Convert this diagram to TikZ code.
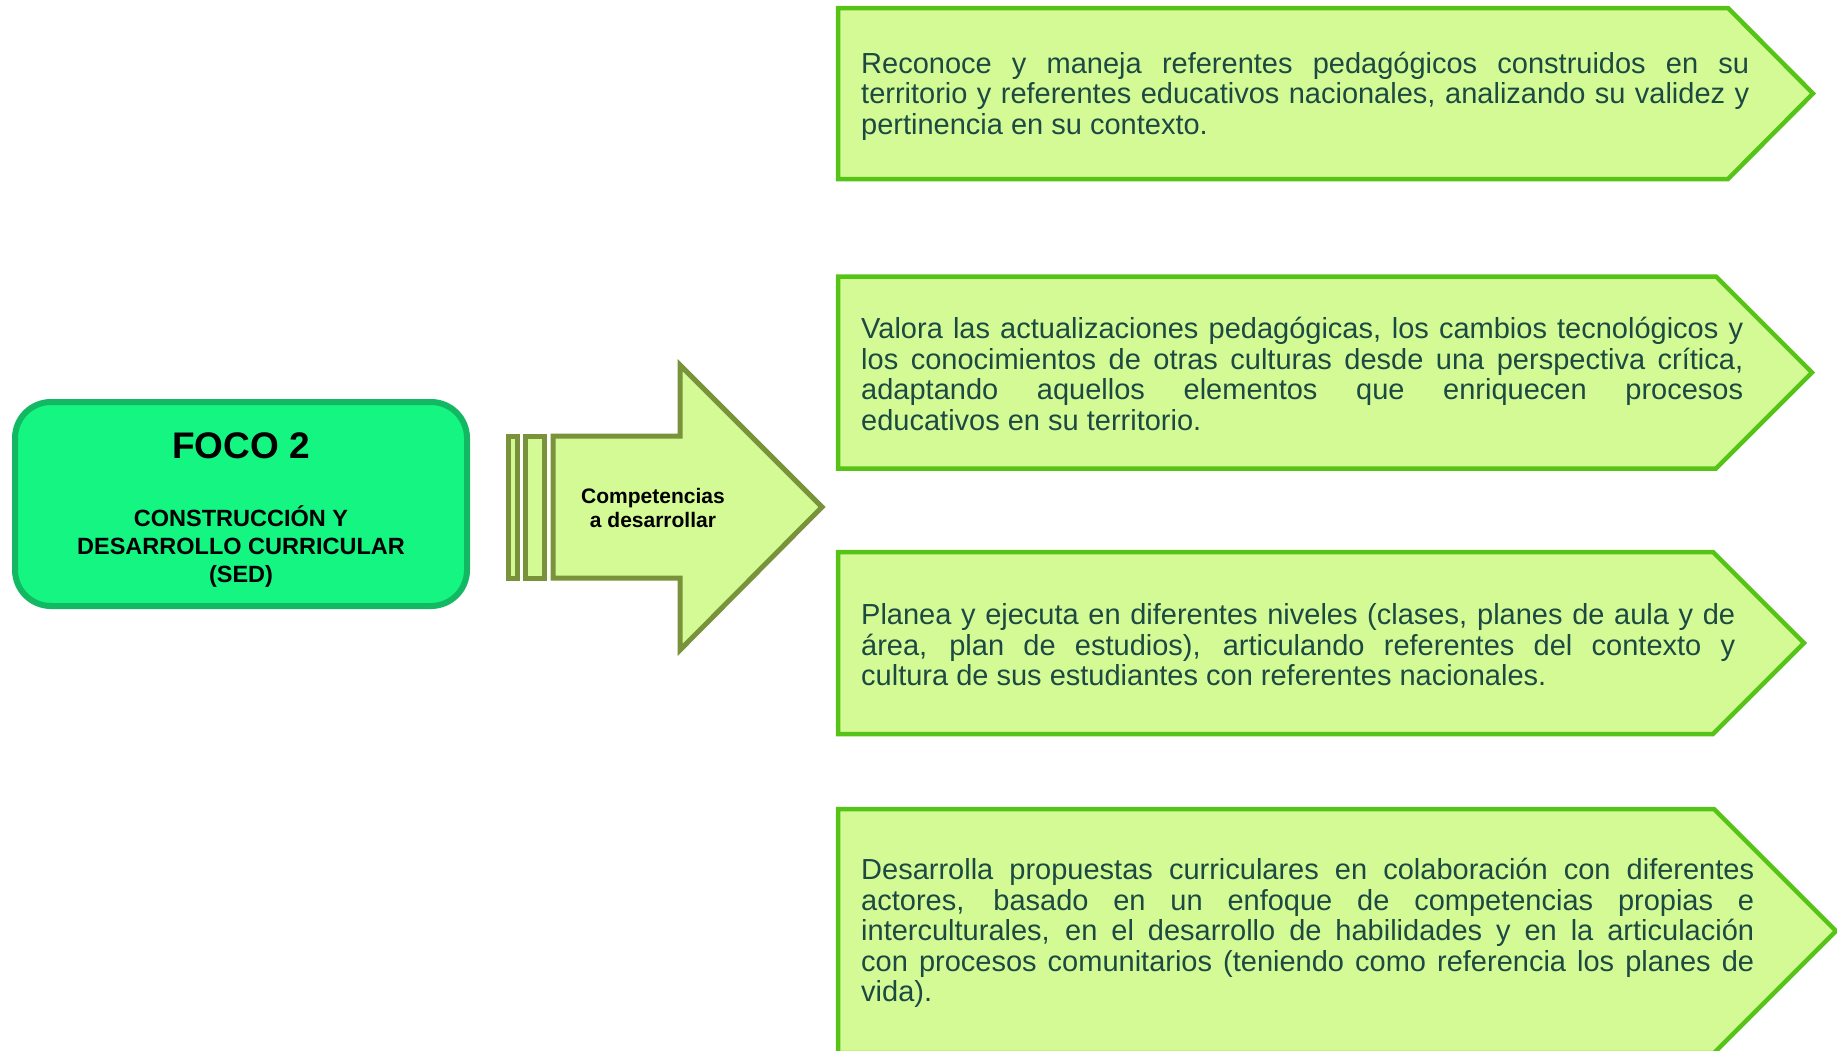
\documentclass[tikz,border=0pt]{standalone}
\usepackage{fontspec}
\setmainfont{Liberation Sans}
\hyphenpenalty=10000
\exhyphenpenalty=10000

\definecolor{focofill}{HTML}{14F582}
\definecolor{focoline}{HTML}{13B862}
\definecolor{compfill}{HTML}{D4FA96}
\definecolor{compline}{HTML}{55C416}
\definecolor{arrowline}{HTML}{789339}
\definecolor{comptext}{HTML}{1C4A42}

\begin{document}
\begin{tikzpicture}[x=1pt,y=-1pt,
		focobox/.style={draw=focoline,fill=focofill,line width=6pt,rounded corners=36pt},
		bigarrow/.style={draw=arrowline,fill=compfill,line width=5pt},
		compbox/.style={draw=compline,fill=compfill,line width=4.5pt},
		comptxt/.style={anchor=west,inner sep=0pt,align=justify,text=comptext,
			font=\fontsize{29}{30.5}\selectfont}]
		\useasboundingbox (0,0) rectangle (1837,1050);

		% focus box
		\draw[focobox] (15,402) rectangle (467,606);
		\node (foco) at (241,446) {\fontsize{37}{40}\selectfont\bfseries FOCO 2};
		\node[align=center,font=\fontsize{23.5}{28}\selectfont\bfseries] (sed) at (241,547)
			{CONSTRUCCIÓN Y\\DESARROLLO CURRICULAR\\(SED)};

		% arrow with the two bars
		\draw[bigarrow] (508.5,436) rectangle (517.5,578);
		\draw[bigarrow] (525.5,436) rectangle (544.5,578);
		\draw[bigarrow] (553,436) -- (680,436) -- (680,365) -- (822,507)
			-- (680,650) -- (680,578) -- (553,578) -- cycle;
		\node[align=center,font=\fontsize{21}{23.5}\selectfont\bfseries] (comp) at (653,508)
			{Competencias\\a desarrollar};

		% competences
		\draw[compbox] (838,8) -- (1728,8) -- (1813,93.5) -- (1728,179) -- (838,179) -- cycle;
		\node[comptxt,text width=888pt] (c1) at (861,96)
			{Reconoce y maneja referentes pedagógicos construidos en su\linebreak
			territorio y referentes educativos nacionales, analizando su validez y\linebreak
			pertinencia en su contexto.};

		\draw[compbox] (838,276.5) -- (1716,276.5) -- (1812,372.5) -- (1716,468.5) -- (838,468.5) -- cycle;
		\node[comptxt,text width=882pt] (c2) at (861,374)
			{Valora las actualizaciones pedagógicas, los cambios tecnológicos y\linebreak
			los conocimientos de otras culturas desde una perspectiva crítica,\linebreak
			adaptando aquellos elementos que enriquecen procesos\linebreak
			educativos en su territorio.};

		\draw[compbox] (838,552) -- (1713,552) -- (1804,643) -- (1713,734) -- (838,734) -- cycle;
		\node[comptxt,text width=874pt] (c3) at (861,645)
			{Planea y ejecuta en diferentes niveles (clases, planes de aula y de\linebreak
			área, plan de estudios), articulando referentes del contexto y\linebreak
			cultura de sus estudiantes con referentes nacionales.};

		\draw[compbox] (838,809) -- (1714,809) -- (1836,931) -- (1714,1053) -- (838,1053) -- cycle;
		\node[comptxt,text width=893pt] (c4) at (861,933)
			{Desarrolla propuestas curriculares en colaboración con diferentes\linebreak
			actores, basado en un enfoque de competencias propias e\linebreak
			interculturales, en el desarrollo de habilidades y en la articulación\linebreak
			con procesos comunitarios (teniendo como referencia los planes de\linebreak
			vida).};
	\end{tikzpicture}
\end{document}
